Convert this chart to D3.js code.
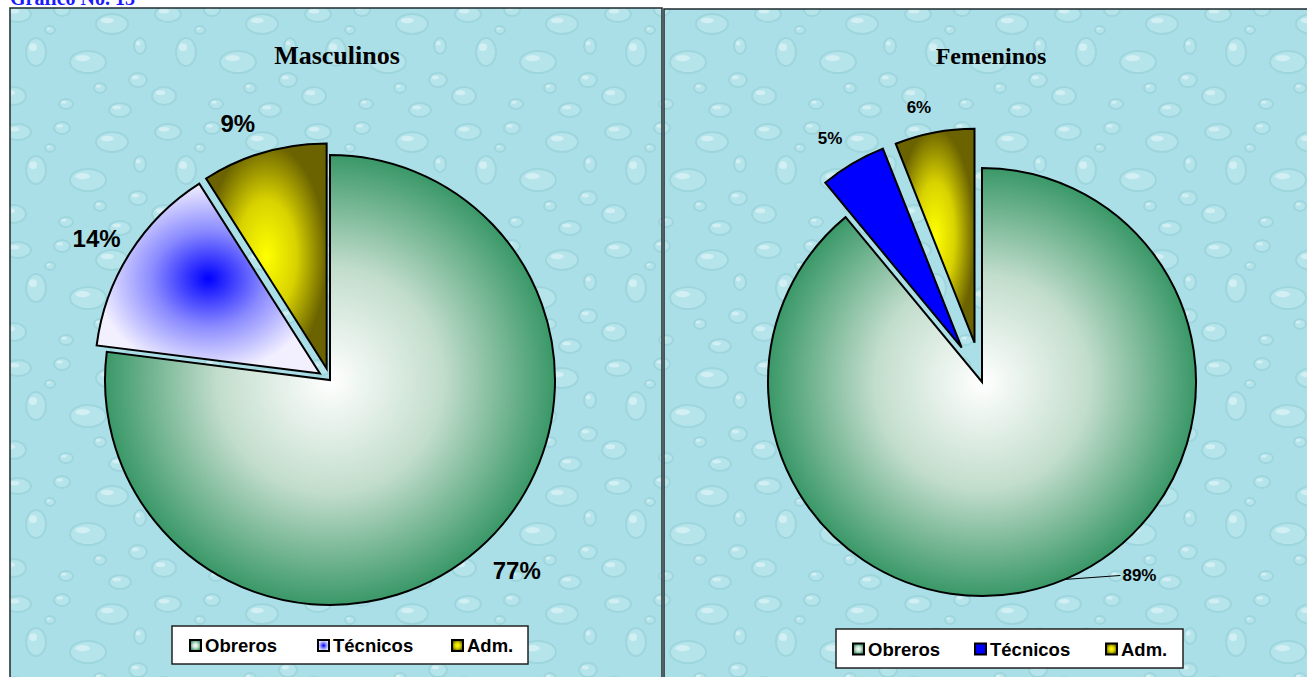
<!DOCTYPE html>
<html>
<head>
<meta charset="utf-8">
<script src="https://cdn.jsdelivr.net/npm/d3@7"></script>
<style>
  body { margin: 0; background: #fff; }
  svg { display: block; }
</style>
</head>
<body>
<div id="chart"></div>
<script>
const categories = ['Obreros', 'Técnicos', 'Adm.'];
const masculinos = [77, 14, 9];
const femeninos = [89, 5, 6];
const pageTitle = 'Gráfico No. 13';
const panelTitles = ['Masculinos', 'Femeninos'];

const width = 1307;
const height = 677;

const svg = d3.select('#chart')
    .append('svg')
    .attr('width', width)
    .attr('height', height);

const defs = svg.append('defs');

// water drop texture for the plot background
const pattern = defs.append('pattern')
    .attr('id', 'drops')
    .attr('patternUnits', 'userSpaceOnUse')
    .attr('width', 150)
    .attr('height', 118);
pattern.append('rect').attr('width', 150).attr('height', 118).attr('fill', '#abdfe7');
const drops = [
    [18, 14, 13, 8], [62, 10, 8, 6], [112, 24, 16, 10], [36, 52, 10, 14],
    [88, 62, 18, 11], [138, 80, 9, 7], [14, 96, 12, 9], [66, 104, 7, 5],
    [120, 110, 11, 7], [50, 30, 5, 4], [100, 88, 6, 5], [140, 46, 6, 8]
];
drops.forEach(([cx, cy, rx, ry]) => {
    pattern.append('ellipse')
        .attr('cx', cx).attr('cy', cy).attr('rx', rx).attr('ry', ry)
        .attr('fill', '#bfe8ee').attr('stroke', '#93cdd7').attr('stroke-width', 2)
        .attr('opacity', 0.55);
    pattern.append('ellipse')
        .attr('cx', cx - rx * 0.3).attr('cy', cy - ry * 0.35)
        .attr('rx', rx * 0.4).attr('ry', ry * 0.28)
        .attr('fill', '#e4f7f9').attr('opacity', 0.6);
});

function radial(id, inner, outer, mid) {
    const g = defs.append('radialGradient').attr('id', id);
    g.append('stop').attr('offset', '0%').attr('stop-color', inner);
    if (mid) g.append('stop').attr('offset', '50%').attr('stop-color', mid);
    g.append('stop').attr('offset', '100%').attr('stop-color', outer);
}
radial('gObreros', '#ffffff', '#3a9868', '#c2ddcc');
radial('gTecnicos', '#0000ff', '#f2f0ff', '#8a8aff');
radial('gAdm', '#ffff00', '#6b6300', '#d8d200');

const fillsMasc = ['url(#gObreros)', 'url(#gTecnicos)', 'url(#gAdm)'];
const fillsFem = ['url(#gObreros)', '#0000ff', 'url(#gAdm)'];

// page title, cut off at the top as in the original
svg.append('text')
    .attr('x', 10)
    .attr('y', 5)
    .attr('font-family', 'Liberation Serif, Times New Roman, serif')
    .attr('font-weight', 'bold')
    .attr('font-size', 20)
    .attr('fill', '#1a1aff')
    .text(pageTitle);

const panels = [
    {x: 10, y: 8, w: 652, h: 680, cx: 330, cy: 380, r: 225, explode: 12,
     data: masculinos, fills: fillsMasc, labelSize: 24, titleSize: 26,
     labelR: [267, 273, 272], labelAdj: [-0.052, -0.02, -0.063],
     legend: {x: 172, y: 626, w: 356, h: 38, items: [190, 318, 452]}},
    {x: 664, y: 9, w: 650, h: 680, cx: 982, cy: 382, r: 214, explode: 40,
     data: femeninos, fills: fillsFem, labelSize: 17, titleSize: 24,
     labelR: [0, 287, 282], labelAdj: [0, -0.024, -0.037],
     legend: {x: 836, y: 629, w: 347, h: 39, items: [853, 975, 1106]}}
];

const pie = d3.pie().sort(null).value(d => d);

panels.forEach((p, pi) => {
    const g = svg.append('g');

    g.append('rect')
        .attr('x', p.x).attr('y', p.y)
        .attr('width', p.w).attr('height', p.h)
        .attr('fill', 'url(#drops)')
        .attr('stroke', '#1e2a2c')
        .attr('stroke-width', 1.5);

    g.append('text')
        .attr('x', pi === 0 ? 337 : 991)
        .attr('y', 64)
        .attr('text-anchor', 'middle')
        .attr('font-family', 'Liberation Serif, Times New Roman, serif')
        .attr('font-weight', 'bold')
        .attr('font-size', p.titleSize)
        .text(panelTitles[pi]);

    const arc = d3.arc().innerRadius(0).outerRadius(p.r);
    const arcs = pie(p.data);

    arcs.forEach((a, i) => {
        const mid = (a.startAngle + a.endAngle) / 2;
        const off = i === 0 ? 0 : p.explode;
        const ox = Math.sin(mid) * off;
        const oy = -Math.cos(mid) * off;
        g.append('path')
            .attr('transform', `translate(${p.cx + ox},${p.cy + oy})`)
            .attr('d', arc(a))
            .attr('fill', p.fills[i])
            .attr('stroke', '#000')
            .attr('stroke-width', 2);

        const pct = Math.round(a.data) + '%';
        if (pi === 1 && i === 0) {
            // label pulled out to the side with a leader line
            const ex = p.cx + Math.sin(mid - 0.05) * p.r;
            const ey = p.cy - Math.cos(mid - 0.05) * p.r;
            const lx = ex + 56;
            const ly = ey - 4;
            g.append('line')
                .attr('x1', ex).attr('y1', ey)
                .attr('x2', lx).attr('y2', ly)
                .attr('stroke', '#000').attr('stroke-width', 1);
            g.append('text')
                .attr('x', lx + 2).attr('y', ly)
                .attr('dy', '0.35em')
                .attr('font-family', 'Liberation Sans, Arial, sans-serif')
                .attr('font-weight', 'bold')
                .attr('font-size', p.labelSize)
                .text(pct);
        } else {
            // distance measured from the un-exploded centre
            const lr = p.labelR[i];
            const ang = mid + p.labelAdj[i];
            g.append('text')
                .attr('x', p.cx + Math.sin(ang) * lr)
                .attr('y', p.cy - Math.cos(ang) * lr)
                .attr('dy', '0.35em')
                .attr('text-anchor', 'middle')
                .attr('font-family', 'Liberation Sans, Arial, sans-serif')
                .attr('font-weight', 'bold')
                .attr('font-size', p.labelSize)
                .text(pct);
        }
    });

    // legend
    const L = p.legend;
    g.append('rect')
        .attr('x', L.x).attr('y', L.y)
        .attr('width', L.w).attr('height', L.h)
        .attr('fill', '#fff')
        .attr('stroke', '#222')
        .attr('stroke-width', 1.5);
    categories.forEach((c, i) => {
        const sx = L.items[i];
        const sy = L.y + L.h / 2 - 5;
        g.append('rect')
            .attr('x', sx).attr('y', sy)
            .attr('width', 11).attr('height', 11)
            .attr('fill', p.fills[i])
            .attr('stroke', '#000')
            .attr('stroke-width', 2);
        g.append('text')
            .attr('x', sx + 15)
            .attr('y', L.y + L.h / 2 + 1)
            .attr('dy', '0.35em')
            .attr('font-family', 'Liberation Sans, Arial, sans-serif')
            .attr('font-weight', 'bold')
            .attr('font-size', 18.5)
            .text(c);
    });
});
</script>
</body>
</html>
